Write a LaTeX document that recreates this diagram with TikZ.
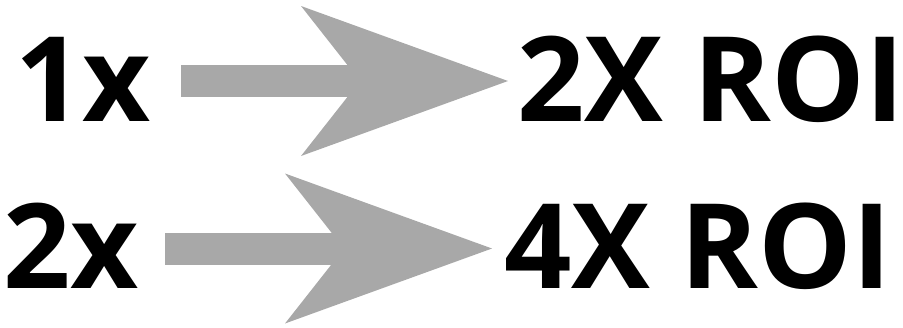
\documentclass[tikz,border=0pt]{standalone}
\usepackage{fontspec}
\setmainfont{Open Sans}[BoldFont={* Bold}]
\usetikzlibrary{arrows.meta}
\definecolor{arrowgray}{HTML}{A8A8A8}
\tikzset{
  big/.style={anchor=base west, inner sep=0pt, font=\fontsize{118}{120}\selectfont\bfseries, text=black},
  fatarrow/.style={draw=arrowgray, line width=32pt,
    -{Stealth[length=207pt, width=150pt, inset=59pt, line width=0pt, fill=arrowgray]}},
}
\begin{document}
\begin{tikzpicture}[x=1pt, y=-1pt]
\useasboundingbox (0,0) rectangle (903,327);
\node[big] (one) at (15,121) {1x};
\node[big] (two) at (517,121) {2X ROI};
\node[big] (three) at (3,288) {2x};
\node[big] (four) at (504,288) {4X ROI};
\coordinate (s1) at (181,81);
\coordinate (t1) at (508,81);
\coordinate (s2) at (165,248.5);
\coordinate (t2) at (492,248.5);
\draw[fatarrow] (s1) -- (t1);
\draw[fatarrow] (s2) -- (t2);
\end{tikzpicture}
\end{document}
